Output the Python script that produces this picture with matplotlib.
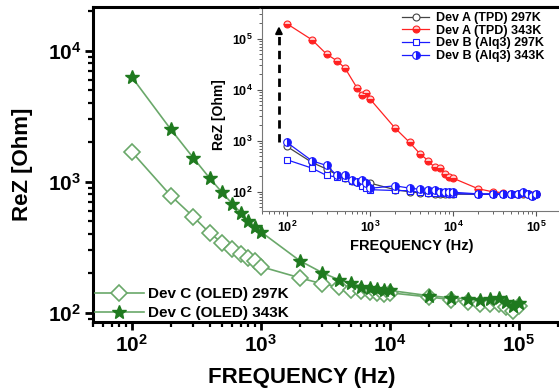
import math
import matplotlib.pyplot as plt
from matplotlib.ticker import LogLocator, FuncFormatter, NullFormatter

plt.rcParams['font.family'] = ['Liberation Sans', 'DejaVu Sans']
plt.rcParams['font.weight'] = 'bold'
plt.rcParams['mathtext.fontset'] = 'custom'
plt.rcParams['mathtext.rm'] = 'Liberation Sans:bold'
plt.rcParams['mathtext.bf'] = 'Liberation Sans:bold'
plt.rcParams['mathtext.default'] = 'rm'

# frequencias (Hz)
freq = [100, 200, 300, 400, 500, 600, 700, 800, 900, 1000,
        2000, 3000, 4000, 5000, 6000, 7000, 8000, 9000, 10000,
        20000, 30000, 40000, 50000, 60000, 70000, 80000, 90000, 100000]

# grafico principal - Dev C (OLED)
dev_c_297 = [1690, 785, 540, 408, 342, 308, 282, 264, 250, 225,
             185, 166, 158, 150, 146, 143, 142, 140, 142,
             132, 126, 120, 117, 117, 117, 111, 103, 112]
dev_c_343 = [6300, 2520, 1520, 1070, 830, 680, 580, 500, 450, 415,
             250, 202, 179, 169, 158, 155, 152, 150, 148,
             135, 130, 128, 126, 128, 130, 121, 113, 119]

# inset - Dev A (TPD) e Dev B (Alq3)
freq_a343 = [100, 200, 300, 400, 500, 700, 800, 900, 1000,
             2000, 3000, 4000, 5000, 6000, 7000, 8000, 9000, 10000,
             20000, 30000, 40000, 50000, 60000, 70000, 80000, 90000, 100000]
dev_a_343 = [197000, 95500, 50000, 37000, 26600, 10800, 7900, 8600, 6600,
             1780, 930, 555, 410, 300, 291, 225, 194, 185,
             115, 100, 96, 92, 91, 94, 90, 85, 90]
dev_a_297 = [773, 376, 279, 215, 185, 165, 155, 148, 150, 148,
             110, 100, 95, 93, 92, 91, 91, 90, 90,
             89, 89, 89, 89, 89, 92, 89, 84, 89]
dev_b_297 = [424, 291, 209, 195, 185, 165, 155, 127, 120, 110,
             106, 105, 97, 95, 94, 93, 93, 92, 92,
             90, 90, 90, 90, 90, 93, 90, 83, 90]
dev_b_343 = [927, 405, 328, 209, 215, 172, 159, 172, 148, 117,
             131, 118, 112, 109, 106, 101, 101, 101, 98,
             91, 91, 91, 91, 91, 97, 91, 81, 91]

verde_linha = '#6aa86a'
verde_estrela = '#1f7a1f'
vermelho = '#ff2222'
azul = '#1a1aff'
cinza = '#444444'


def potencia(v, pos):
    return r'$\mathdefault{10^{%d}}$' % round(math.log10(v))


def configurar_eixo(ax, tam_fonte, lw, maior, menor, pad):
    ax.set_xscale('log')
    ax.set_yscale('log')
    for eixo in (ax.xaxis, ax.yaxis):
        eixo.set_major_locator(LogLocator(base=10, numticks=10))
        eixo.set_minor_locator(LogLocator(base=10, subs=range(2, 10), numticks=20))
        eixo.set_major_formatter(FuncFormatter(potencia))
        eixo.set_minor_formatter(NullFormatter())
    ax.tick_params(which='major', direction='out', length=maior, width=lw,
                   labelsize=tam_fonte, pad=pad)
    ax.tick_params(which='minor', direction='out', length=menor, width=lw * 0.8)
    ax.tick_params(top=False, right=False, which='both')


fig = plt.figure(figsize=(5.59, 3.89), dpi=100)

# eixo principal
ax = fig.add_axes([93 / 559, 67 / 389, 469 / 559, 315 / 389])
configurar_eixo(ax, 15, 2, 6, 3.5, 2.5)
for lado in ('left', 'bottom', 'top', 'right'):
    ax.spines[lado].set_linewidth(2.2)
ax.set_xlim(50, 2.16e5)
ax.set_ylim(85, 21600)

ax.plot(freq, dev_c_297, '-', color=verde_linha, lw=1.2, marker='D', markersize=8,
        markerfacecolor='white', markeredgecolor=verde_linha, markeredgewidth=1.2,
        label='Dev C (OLED) 297K')
ax.plot(freq, dev_c_343, '-', color=verde_linha, lw=1.2, marker='*', markersize=10,
        markerfacecolor=verde_estrela, markeredgecolor=verde_estrela,
        label='Dev C (OLED) 343K')

ax.set_xlabel('FREQUENCY (Hz)', fontsize=16, fontweight='bold')
ax.set_ylabel('ReZ [Ohm]', fontsize=16, fontweight='bold')
ax.xaxis.set_label_coords(0.446, -0.142)
ax.yaxis.set_label_coords(-0.128, 0.5)
ax.legend(loc='lower left', bbox_to_anchor=(0.004, 0.005), frameon=False,
          fontsize=11, handlelength=3.2, handletextpad=0.25, labelspacing=0.35,
          borderpad=0, borderaxespad=0)

# inset
ax_in = fig.add_axes([262 / 559, 178 / 389, 299 / 559, 204 / 389])
configurar_eixo(ax_in, 9, 0.8, 3.5, 2, 3)
ax_in.set_xlim(50, 2e5)
ax_in.set_ylim(42, 4.2e5)
ax_in.spines['left'].set_color('#777777')
ax_in.spines['bottom'].set_color('#777777')
ax_in.spines['right'].set_visible(False)
ax_in.spines['top'].set_linewidth(2.2)
ax_in.tick_params(which='both', colors='#555555', labelcolor='black')

ax_in.plot(freq, dev_a_297, '-', color=cinza, lw=0.9, marker='o', markersize=5,
           markerfacecolor='white', markeredgecolor=cinza, markeredgewidth=0.8,
           label='Dev A (TPD) 297K')
ax_in.plot(freq_a343, dev_a_343, '-', color=vermelho, lw=0.9, marker='o', markersize=5,
           fillstyle='bottom', markerfacecolor=vermelho, markerfacecoloralt='#ffd0d0',
           markeredgecolor=vermelho, markeredgewidth=0.8, label='Dev A (TPD) 343K')
ax_in.plot(freq, dev_b_297, '-', color=azul, lw=0.9, marker='s', markersize=4.5,
           markerfacecolor='white', markeredgecolor=azul, markeredgewidth=0.8,
           label='Dev B (Alq3) 297K')
ax_in.plot(freq, dev_b_343, '-', color=azul, lw=0.9, marker='o', markersize=5.5,
           fillstyle='right', markerfacecolor=azul, markerfacecoloralt='white',
           markeredgecolor=azul, markeredgewidth=0.8, label='Dev B (Alq3) 343K')

# seta tracejada
ax_in.plot([80, 80], [950, 1.3e5], '--', color='black', lw=2, dashes=(3, 2))
ax_in.annotate('', xy=(80, 2.0e5), xytext=(80, 1.2e5),
               arrowprops=dict(arrowstyle='-|>', color='black', lw=1.5, mutation_scale=10))

ax_in.set_xlabel('FREQUENCY (Hz)', fontsize=10.5, fontweight='bold')
ax_in.set_ylabel('ReZ [Ohm]', fontsize=10, fontweight='bold')
ax_in.xaxis.set_label_coords(0.50, -0.135)
ax_in.yaxis.set_label_coords(-0.12, 0.47)
ax_in.legend(loc='upper left', bbox_to_anchor=(0.468, 0.975), frameon=False,
             fontsize=9, handlelength=2.2, handletextpad=0.5, labelspacing=0.05,
             borderpad=0, borderaxespad=0)

fig.savefig('out.png', dpi=100)
